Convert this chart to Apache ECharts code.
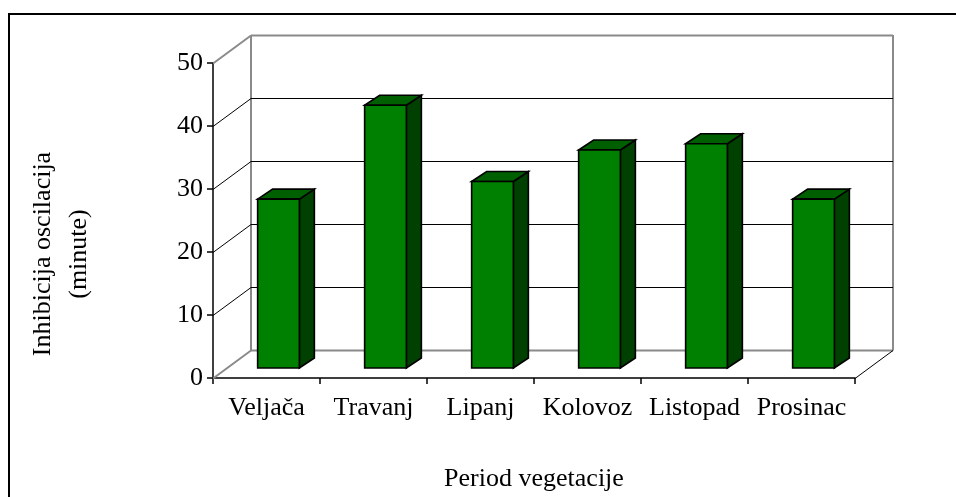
<!DOCTYPE html>
<html>
<head>
<meta charset="utf-8">
<script src="https://cdn.jsdelivr.net/npm/echarts@6/dist/echarts.min.js"></script>
<style>
  html, body { margin: 0; padding: 0; background: #fff; }
  #chart { width: 956px; height: 497px; }
</style>
</head>
<body>
<div id="chart"></div>
<script>
// Months of the vegetation period and inhibition of oscillations (minutes)
const categories = ['Veljača', 'Travanj', 'Lipanj', 'Kolovoz', 'Listopad', 'Prosinac'];
const values = [26.8, 41.7, 29.6, 34.6, 35.6, 26.8];
const yTicks = [0, 10, 20, 30, 40, 50];

const FONT = '"Liberation Serif", "Times New Roman", serif';

// Pseudo-3D projection: back wall offset and bar depth (pixels)
const WALL_DX = 38, WALL_DY = -28;
const BAR_OFF_X = 12, BAR_OFF_Y = -10;
const BAR_DX = 15, BAR_DY = -10;
const BAR_RATIO = 0.39;

const GRAY = '#8a8a8a';

const chart = echarts.init(document.getElementById('chart'), null, { renderer: 'canvas' });

function renderWall(params, api) {
  const v = api.value(1);
  const cs = params.coordSys;
  const y = Math.round(api.coord([0, v])[1]) + 0.5;
  const left = cs.x, right = cs.x + cs.width;
  const edge = (v === yTicks[0] || v === yTicks[yTicks.length - 1]);
  const color = edge ? GRAY : '#000';
  const width = edge ? 2 : 1;
  const children = [
    { type: 'line', shape: { x1: left, y1: y, x2: left + WALL_DX, y2: y + WALL_DY },
      style: { stroke: color, lineWidth: width } },
    { type: 'line', shape: { x1: left + WALL_DX, y1: y + WALL_DY, x2: right + WALL_DX, y2: y + WALL_DY },
      style: { stroke: edge ? GRAY : '#000', lineWidth: width } }
  ];
  if (params.dataIndex === 0) {
    const yTop = api.coord([0, yTicks[yTicks.length - 1]])[1];
    const yBot = y;
    children.push(
      { type: 'line', shape: { x1: left + WALL_DX, y1: yTop + WALL_DY, x2: left + WALL_DX, y2: yBot + WALL_DY },
        style: { stroke: GRAY, lineWidth: 2 } },
      { type: 'line', shape: { x1: right + WALL_DX, y1: yTop + WALL_DY, x2: right + WALL_DX, y2: yBot + WALL_DY },
        style: { stroke: GRAY, lineWidth: 2 } },
      { type: 'line', shape: { x1: right, y1: yBot, x2: right + WALL_DX, y2: yBot + WALL_DY },
        style: { stroke: '#000', lineWidth: 1 } }
    );
  }
  return { type: 'group', children: children };
}

function renderBar(params, api) {
  const i = api.value(0);
  const v = api.value(1);
  const topPt = api.coord([i, v]);
  const basePt = api.coord([i, 0]);
  const w = api.size([1, 0])[0] * BAR_RATIO;
  const x0 = topPt[0] - w / 2 + BAR_OFF_X;
  const top = topPt[1] + BAR_OFF_Y;
  const bottom = basePt[1] + BAR_OFF_Y;
  const stroke = { stroke: '#000', lineWidth: 1.6, lineJoin: 'miter' };
  return {
    type: 'group',
    children: [
      { type: 'polygon',
        shape: { points: [[x0 + w, top], [x0 + w + BAR_DX, top + BAR_DY], [x0 + w + BAR_DX, bottom + BAR_DY], [x0 + w, bottom]] },
        style: Object.assign({ fill: '#004000' }, stroke) },
      { type: 'polygon',
        shape: { points: [[x0, top], [x0 + BAR_DX, top + BAR_DY], [x0 + w + BAR_DX, top + BAR_DY], [x0 + w, top]] },
        style: Object.assign({ fill: '#005f00' }, stroke) },
      { type: 'rect',
        shape: { x: x0, y: top, width: w, height: bottom - top },
        style: Object.assign({ fill: '#008000' }, stroke) }
    ]
  };
}

chart.setOption({
  animation: false,
  backgroundColor: '#fff',
  grid: { left: 213, right: 101, top: 63, bottom: 117, containLabel: false },
  xAxis: {
    type: 'category',
    data: categories,
    boundaryGap: true,
    name: 'Period vegetacije',
    nameLocation: 'middle',
    nameGap: 88,
    nameTextStyle: { fontFamily: FONT, fontSize: 26, color: '#000' },
    axisLine: { show: true, lineStyle: { color: '#000', width: 1.5 } },
    axisTick: { show: true, interval: 0, length: 6, lineStyle: { color: '#000', width: 1.5 } },
    axisLabel: { interval: 0, margin: 17, fontFamily: FONT, fontSize: 26, color: '#000' },
    splitLine: { show: false }
  },
  yAxis: {
    type: 'value',
    min: 0,
    max: 50,
    interval: 10,
    axisLine: { show: true, lineStyle: { color: '#000', width: 1.5 } },
    axisTick: { show: true, length: 6, lineStyle: { color: '#000', width: 1.5 } },
    axisLabel: { margin: 10, fontFamily: FONT, fontSize: 26, color: '#000' },
    splitLine: { show: false }
  },
  graphic: [
    { type: 'rect', silent: true, z: -10,
      shape: { x: 9, y: 14, width: 1000, height: 600 },
      style: { fill: 'none', stroke: '#000', lineWidth: 2 } },
    { type: 'text', silent: true,
      x: 61, y: 254, rotation: Math.PI / 2,
      style: {
        text: 'Inhibicija oscilacija\n(minute)',
        fontFamily: FONT, fontSize: 26, lineHeight: 36,
        fill: '#000', align: 'center', verticalAlign: 'middle'
      } }
  ],
  series: [
    {
      type: 'custom',
      name: 'walls',
      clip: false,
      z: 1,
      silent: true,
      renderItem: renderWall,
      data: yTicks.map(function (t) { return [0, t]; })
    },
    {
      type: 'custom',
      name: 'Inhibicija oscilacija',
      clip: false,
      z: 3,
      renderItem: renderBar,
      data: values.map(function (v, i) { return [i, v]; })
    }
  ]
});
</script>
</body>
</html>
